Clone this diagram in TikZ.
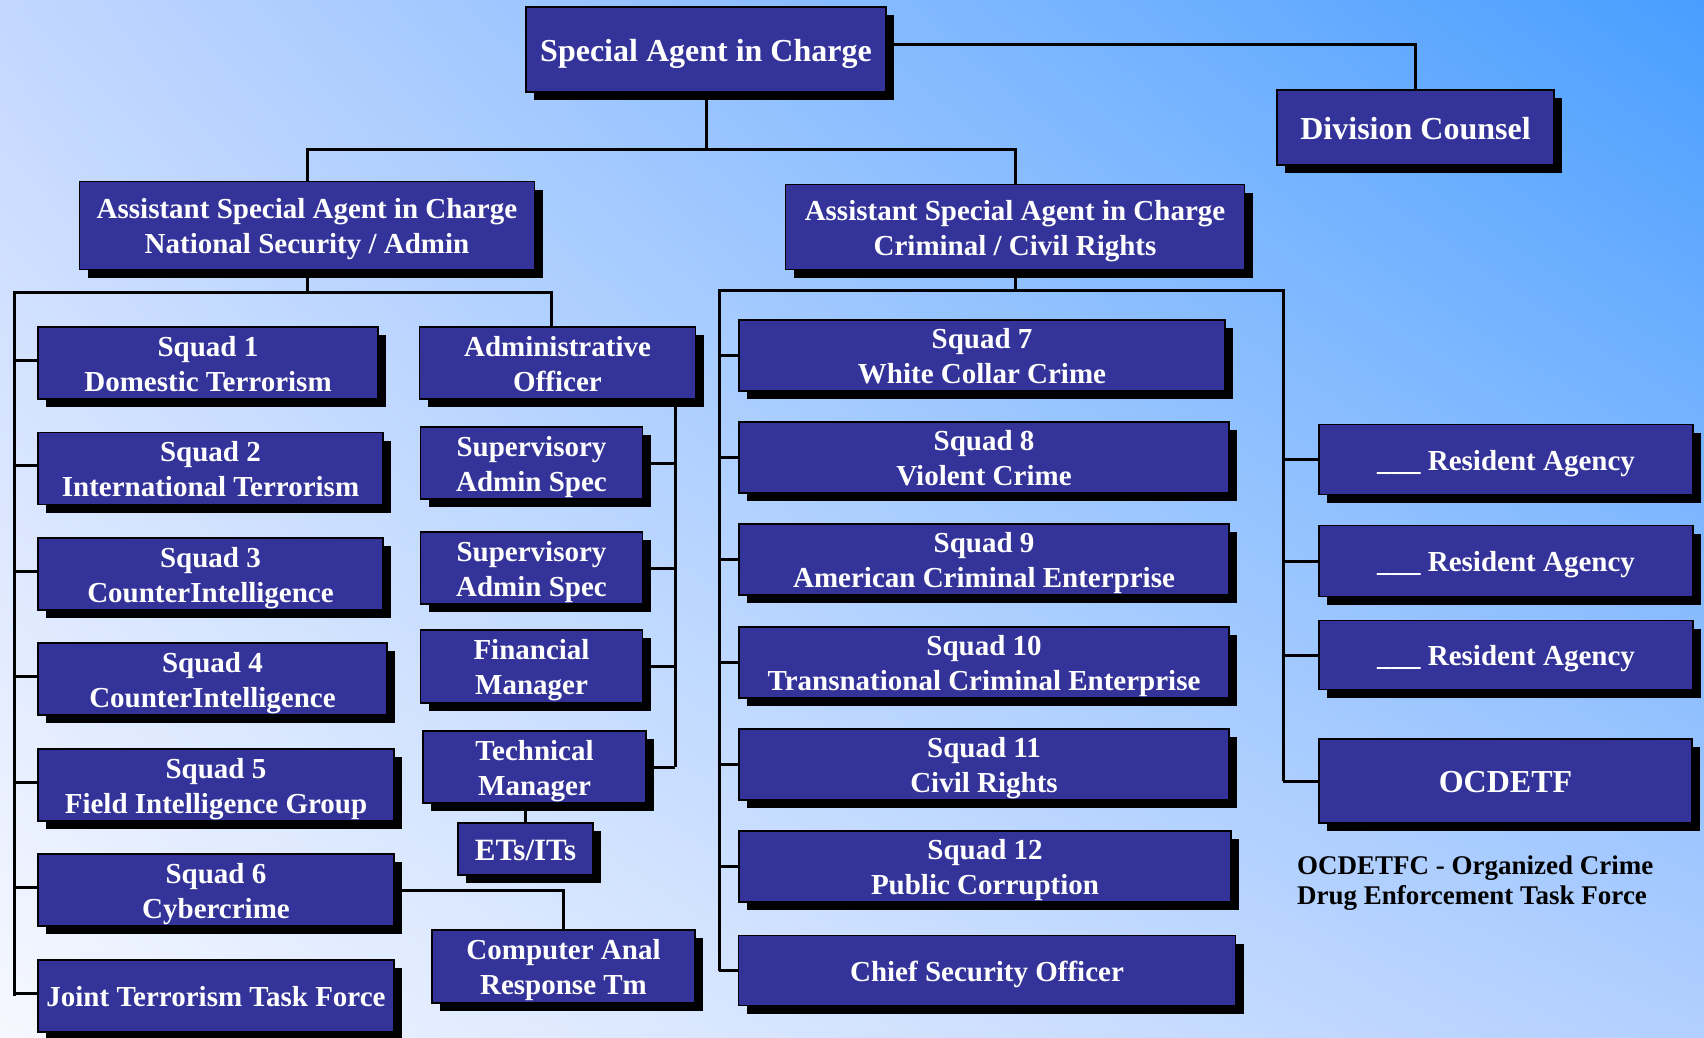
\documentclass[tikz,border=0pt]{standalone}
\usepackage{fontspec}
\setmainfont{Liberation Serif}
\usetikzlibrary{shadows,shadings}
\definecolor{boxblue}{HTML}{333399}
\definecolor{bgUL}{RGB}{195,215,255}
\definecolor{bgUR}{RGB}{72,158,255}
\definecolor{bgLL}{RGB}{246,248,255}
\definecolor{bgLR}{RGB}{178,207,255}
\begin{document}
\begin{tikzpicture}[x=1pt,y=-1pt,
		unit/.style={draw=black,line width=1.5pt,fill=boxblue,text=white,align=center,inner sep=0pt,
			font=\fontsize{29}{35}\selectfont\bfseries,text height=28pt,text depth=7pt,
			drop shadow={shadow xshift=8pt,shadow yshift=-8pt,fill=black,opacity=1}},
		dbl/.style={text height=63pt},
		big/.style={font=\fontsize{32}{36}\selectfont\bfseries,text height=31pt,text depth=8pt},
		wh/.style 2 args={minimum width=#1pt,minimum height=#2pt},
		link/.style={line width=3pt,black}]
	\shade[upper left=bgUL,upper right=bgUR,lower left=bgLL,lower right=bgLR] (0,0) rectangle (1704,1037);
	\useasboundingbox (0,0) rectangle (1704,1037);
	\node [unit,big,wh={360}{85}] (sac) at (706,49.5) {Special Agent in Charge};
	\node [unit,big,wh={277}{75}] (counsel) at (1415.5,127.5) {Division Counsel};
	\node [unit,dbl,wh={455}{88}] (asacns) at (307,225.5) {Assistant Special Agent in Charge\\National Security / Admin};
	\node [unit,dbl,wh={459}{85}] (asaccr) at (1015,227) {Assistant Special Agent in Charge\\Criminal / Civil Rights};
	\node [unit,dbl,wh={340}{72}] (sq1) at (208,363) {Squad 1\\Domestic Terrorism};
	\node [unit,dbl,wh={345}{72}] (sq2) at (210.5,468.5) {Squad 2\\International Terrorism};
	\node [unit,dbl,wh={345}{72}] (sq3) at (210.5,574) {Squad 3\\CounterIntelligence};
	\node [unit,dbl,wh={349}{72}] (sq4) at (212.5,679) {Squad 4\\CounterIntelligence};
	\node [unit,dbl,wh={356}{72}] (sq5) at (216,785) {Squad 5\\Field Intelligence Group};
	\node [unit,dbl,wh={356}{72}] (sq6) at (216,890) {Squad 6\\Cybercrime};
	\node [unit,wh={356}{72}] (jttf) at (216,996) {Joint Terrorism Task Force};
	\node [unit,dbl,wh={276}{72}] (admin) at (557.5,363) {Administrative\\Officer};
	\node [unit,dbl,wh={222}{72}] (sas1) at (531.5,463) {Supervisory\\Admin Spec};
	\node [unit,dbl,wh={222}{72}] (sas2) at (531.5,568) {Supervisory\\Admin Spec};
	\node [unit,dbl,wh={222}{73}] (finmgr) at (531.5,666.5) {Financial\\Manager};
	\node [unit,dbl,wh={223}{72}] (techmgr) at (534.5,767) {Technical\\Manager};
	\node [unit,wh={135}{52},font=\fontsize{31}{35}\selectfont\bfseries,text height=30pt,text depth=7.5pt] (ets) at (525.5,849) {ETs/ITs};
	\node [unit,dbl,wh={263}{73}] (cart) at (563.5,966.5) {Computer Anal\\Response Tm};
	\node [unit,dbl,wh={486}{71}] (sq7) at (982,355.5) {Squad 7\\White Collar Crime};
	\node [unit,dbl,wh={490}{71}] (sq8) at (984,457.5) {Squad 8\\Violent Crime};
	\node [unit,dbl,wh={490}{71}] (sq9) at (984,559.5) {Squad 9\\American Criminal Enterprise};
	\node [unit,dbl,wh={490}{71}] (sq10) at (984,662.5) {Squad 10\\Transnational Criminal Enterprise};
	\node [unit,dbl,wh={490}{71}] (sq11) at (984,764.5) {Squad 11\\Civil Rights};
	\node [unit,dbl,wh={492}{71}] (sq12) at (985,866.5) {Squad 12\\Public Corruption};
	\node [unit,wh={497}{70}] (cso) at (987,970.5) {Chief Security Officer};
	\node [unit,wh={374}{70}] (ra1) at (1506,459.5) {\_\_\_ Resident Agency};
	\node [unit,wh={374}{71}] (ra2) at (1506,561) {\_\_\_ Resident Agency};
	\node [unit,wh={374}{69}] (ra3) at (1506,655) {\_\_\_ Resident Agency};
	\node [unit,big,wh={373}{84}] (ocdetf) at (1505.5,781) {OCDETF};
	\node [anchor=west,align=left,inner sep=0pt,font=\fontsize{27}{30}\selectfont\bfseries] (note) at (1297,883) {OCDETFC - Organized Crime\\Drug Enforcement Task Force};
	\coordinate (top) at (0,149);
	\coordinate (lbusL) at (14,292);
	\coordinate (lbusR) at (551,292);
	\coordinate (mbus) at (675,0);
	\coordinate (rbusL) at (719,290);
	\coordinate (rbusR) at (1283,290);
	\draw [link] ([yshift=5pt]sac.east) -| (counsel.north);
	\draw [link] (sac.south) -- (sac.south |- top);
	\draw [link] (asacns.north) |- (asaccr.north |- top) -- (asaccr.north);
	\draw [link] (asacns.south) -- (asacns.south |- lbusL);
	\draw [link] (lbusL |- jttf.west) -- (lbusL) -- (lbusR) -- (lbusR |- admin.north);
	\foreach \n in {sq1,sq2,sq3,sq4,sq5,sq6,jttf}{
		\coordinate (stub) at ([yshift=3pt]\n.west);
		\draw [link] (stub -| lbusL) -- (stub);
	}
	\draw [link] (mbus |- admin.south) -- (mbus |- techmgr.east);
	\foreach \n in {sas1,sas2,finmgr,techmgr}
		\draw [link] (\n.east) -- (mbus |- \n.east);
	\draw [link] (techmgr.south -| ets.north) -- (ets.north);
	\draw [link] (sq6.east) -| (cart.north);
	\draw [link] (asaccr.south) -- (asaccr.south |- rbusL);
	\draw [link] (rbusL |- cso.west) -- (rbusL) -- (rbusR) -- (rbusR |- ocdetf.west);
	\foreach \n in {sq7,sq8,sq9,sq10,sq11,sq12,cso}
		\draw [link] (rbusL |- \n.west) -- (\n.west);
	\foreach \n in {ra1,ra2,ra3,ocdetf}
		\draw [link] (rbusR |- \n.west) -- (\n.west);
\end{tikzpicture}
\end{document}
